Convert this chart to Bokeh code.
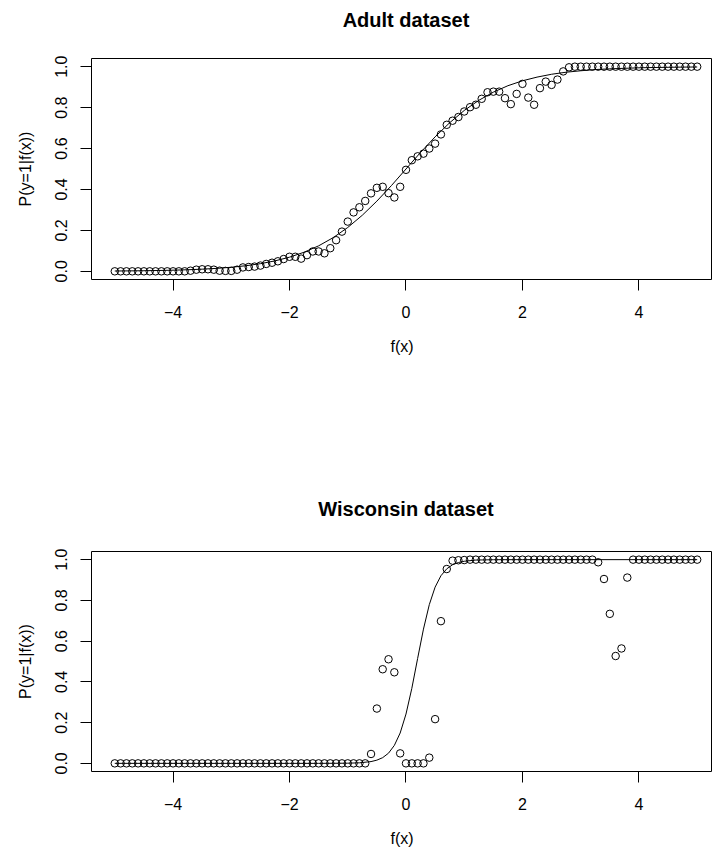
import numpy as np
from bokeh.plotting import figure
from bokeh.layouts import column
from bokeh.models import Range1d, FixedTicker, LinearAxis
from bokeh.embed import file_html
from bokeh.resources import INLINE

# x grid of the binned scores f(x)
fx = np.round(np.arange(-50, 51) / 10.0, 1)

adult_p = [
    0.0, 0.0, 0.0, 0.0, 0.0, 0.0, 0.0, 0.0, 0.0, 0.0,
    0.0, 0.0, 0.0, 0.003, 0.008, 0.010, 0.010, 0.008, 0.003, 0.002,
    0.002, 0.008, 0.019, 0.021, 0.023, 0.028, 0.036, 0.042, 0.049, 0.060,
    0.071, 0.071, 0.062, 0.079, 0.097, 0.097, 0.088, 0.113, 0.152, 0.194,
    0.243, 0.288, 0.313, 0.344, 0.381, 0.408, 0.413, 0.382, 0.361, 0.413,
    0.496, 0.543, 0.562, 0.575, 0.600, 0.624, 0.669, 0.716, 0.736, 0.754,
    0.781, 0.802, 0.814, 0.843, 0.875, 0.878, 0.878, 0.846, 0.817, 0.867,
    0.916, 0.849, 0.814, 0.895, 0.927, 0.911, 0.937, 0.977, 0.997, 1.0,
    1.0, 1.0, 1.0, 1.0, 1.0, 1.0, 1.0, 1.0, 1.0, 1.0,
    1.0, 1.0, 1.0, 1.0, 1.0, 1.0, 1.0, 1.0, 1.0, 1.0,
    1.0,
]

wisc_p = [
    0.0, 0.0, 0.0, 0.0, 0.0, 0.0, 0.0, 0.0, 0.0, 0.0,
    0.0, 0.0, 0.0, 0.0, 0.0, 0.0, 0.0, 0.0, 0.0, 0.0,
    0.0, 0.0, 0.0, 0.0, 0.0, 0.0, 0.0, 0.0, 0.0, 0.0,
    0.0, 0.0, 0.0, 0.0, 0.0, 0.0, 0.0, 0.0, 0.0, 0.0,
    0.0, 0.0, 0.0, 0.0, 0.046, 0.269, 0.462, 0.511, 0.447, 0.049,
    0.0, 0.0, 0.0, 0.0, 0.028, 0.217, 0.698, 0.954, 0.995, 0.997,
    0.998, 1.0, 1.0, 1.0, 1.0, 1.0, 1.0, 1.0, 1.0, 1.0,
    1.0, 1.0, 1.0, 1.0, 1.0, 1.0, 1.0, 1.0, 1.0, 1.0,
    1.0, 1.0, 1.0, 0.987, 0.905, 0.734, 0.527, 0.564, 0.912, 1.0,
    1.0, 1.0, 1.0, 1.0, 1.0, 1.0, 1.0, 1.0, 1.0, 1.0,
    1.0,
]

# fitted sigmoid curves
adult_curve_x = [-5, -4.75, -4.5, -4.25, -4, -3.75, -3.5, -3.25, -3, -2.75,
                 -2.5, -2.25, -2, -1.75, -1.5, -1.25, -1, -0.75, -0.5, -0.25,
                 0, 0.25, 0.5, 0.75, 1, 1.25, 1.5, 1.75, 2, 2.25,
                 2.5, 2.75, 3, 3.25, 3.5, 3.75, 4, 4.25, 4.5, 4.75, 5]
adult_curve_y = [0.0015, 0.0021, 0.0029, 0.0040, 0.0055, 0.0076, 0.0105, 0.0144, 0.0198, 0.0272,
                 0.0373, 0.0509, 0.0691, 0.0932, 0.1245, 0.1645, 0.2142, 0.274, 0.343, 0.419,
                 0.5, 0.581, 0.657, 0.726, 0.786, 0.8355, 0.8755, 0.907, 0.931, 0.949,
                 0.963, 0.973, 0.980, 0.986, 0.9895, 0.992, 0.9945, 0.996, 0.997, 0.998, 0.9985]

wisc_curve_x = [-5, -4, -3, -2, -1.5, -1, -0.8, -0.6, -0.5, -0.4, -0.3, -0.2, -0.1,
                0, 0.1, 0.2, 0.3, 0.4, 0.5, 0.6, 0.7, 0.8, 0.9, 1.0, 1.2, 1.5, 2, 3, 4, 5]
wisc_curve_y = [0.0, 0.0, 0.0, 0.0, 0.0, 0.0008, 0.0026, 0.0087, 0.0157, 0.028, 0.050, 0.088, 0.149,
                0.242, 0.368, 0.515, 0.659, 0.779, 0.865, 0.921, 0.955, 0.975, 0.986, 0.992, 0.998, 0.9996,
                1.0, 1.0, 1.0, 1.0]

x_ticks = [-4, -2, 0, 2, 4]
x_tick_labels = {-4: "\u22124", -2: "\u22122", 0: "0", 2: "2", 4: "4"}
y_ticks = [0.0, 0.2, 0.4, 0.6, 0.8, 1.0]
y_tick_labels = {0.0: "0.0", 0.2: "0.2", 0.4: "0.4", 0.6: "0.6", 0.8: "0.8", 1.0: "1.0"}

FONT = "Liberation Sans"


def make_panel(title, px, py, cx, cy, fh, mb_top, mb_bottom, title_standoff):
    p = figure(output_backend="svg", toolbar_location=None,
               frame_width=621, frame_height=fh,
               min_border_left=91, min_border_right=0,
               min_border_top=mb_top, min_border_bottom=mb_bottom,
               x_range=Range1d(-5.4, 5.263), y_range=Range1d(-0.04, 1.04))
    p.outline_line_color = "black"
    p.outline_line_width = 1
    p.xgrid.visible = False
    p.ygrid.visible = False
    p.background_fill_color = "white"
    p.border_fill_color = "white"

    p.line(cx, cy, line_color="black", line_width=1)
    p.scatter(px, py, marker="circle", size=7.5, fill_color=None,
              line_color="black", line_width=1)

    xa = p.below[0]
    ya = p.left[0]
    for ax, ticks, labels in ((xa, x_ticks, x_tick_labels),
                              (ya, y_ticks, y_tick_labels)):
        ax.ticker = FixedTicker(ticks=ticks)
        ax.major_label_overrides = labels
        ax.axis_line_color = None
        ax.major_tick_out = 11
        ax.major_tick_in = 0
        ax.minor_tick_line_color = None
        ax.major_tick_line_color = "black"
        ax.major_label_text_font = FONT
        ax.major_label_text_font_size = "16px"
        ax.major_label_text_color = "black"
        ax.axis_label_text_font = FONT
        ax.axis_label_text_font_size = "16px"
        ax.axis_label_text_font_style = "normal"
        ax.axis_label_text_color = "black"

    xa.axis_label = "f(x)"
    xa.major_label_standoff = 15
    xa.axis_label_standoff = 17
    ya.axis_label = "P(y=1|f(x))"
    ya.major_label_orientation = "vertical"
    ya.major_label_standoff = 13
    ya.axis_label_standoff = 19

    # title drawn centred over f(x) = 0 (centre of the plot box)
    t_axis = LinearAxis(ticker=FixedTicker(ticks=[0]),
                        major_label_overrides={0: title},
                        axis_line_color=None, major_tick_line_color=None,
                        minor_tick_line_color=None, major_tick_out=0,
                        major_tick_in=0, major_label_standoff=title_standoff,
                        major_label_text_font=FONT,
                        major_label_text_font_size="20px",
                        major_label_text_font_style="bold",
                        major_label_text_color="black")
    p.add_layout(t_axis, "above")
    return p


p1 = make_panel("Adult dataset", fx, adult_p, adult_curve_x, adult_curve_y,
                221, 58, 159, 28)
p2 = make_panel("Wisconsin dataset", fx, wisc_p, wisc_curve_x, wisc_curve_y,
                220, 113, 75, 32)

layout = column(p1, p2, spacing=0)
open("out.html", "w").write(file_html(layout, INLINE))
